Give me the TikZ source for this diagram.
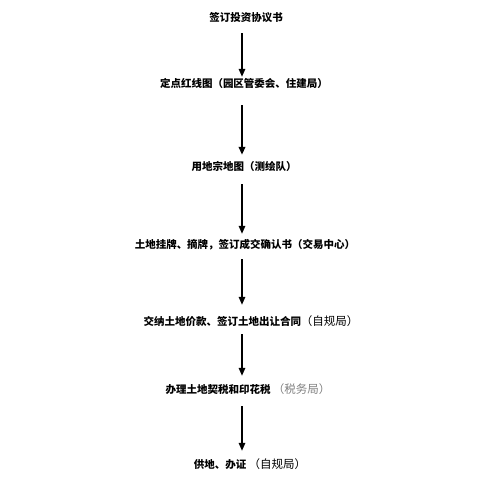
\documentclass[tikz,border=0pt]{standalone}
\usepackage{fontspec}
\newfontfamily\cjk{Noto Sans CJK SC}
\usepackage{tikz}
\usetikzlibrary{arrows.meta, positioning}
\newcommand\agency{\cjk\mdseries\fontsize{11.5pt}{12pt}\selectfont}

\begin{document}
\begin{tikzpicture}[x=1pt, y=-1pt, >={Triangle[width=6.5pt,length=8pt]},
  font=\cjk\bfseries\fontsize{10.5pt}{12pt}\selectfont,
  node distance = 70pt, on grid,
  stage/.style={inner sep=0pt, text height=8.5pt, text depth=1.5pt},
  flow/.style={->, line width=1.6pt}]

\useasboundingbox (0,0) rectangle (499,482);

\node[stage] (sign) at (246,18) {签订投资协议书};
\node[stage, below=66pt of sign, xshift=-2pt] (redline) {定点红线图（园区管委会、住建局）};
\node[stage, below=83pt of redline] (parcel) {用地宗地图（测绘队）};
\node[stage, below=78pt of parcel, xshift=1pt] (listing) {土地挂牌、摘牌，签订成交确认书（交易中心）};
\node[stage, below=77pt of listing, xshift=6pt] (contract)
  {交纳土地价款、签订土地出让合同{\agency （自规局）}};
\node[stage, below=68pt of contract, xshift=-3pt] (tax)
  {办理土地契税和印花税 {\agency\color{gray}（税务局）}};
\node[stage, below=75pt of tax, xshift=2pt] (permit) {供地、办证 {\agency （自规局）}};

\coordinate (axis) at (242,0);

\draw[flow, shorten <=10pt, shorten >=2pt] (sign.south -| axis) -- (redline.north -| axis);
\draw[flow, line width=2.4pt, shorten <=16pt, shorten >=7pt] (redline.south -| axis) -- (parcel.north -| axis);
\draw[flow, shorten <=12pt, shorten >=6pt] (parcel.south -| axis) -- (listing.north -| axis);
\draw[flow, shorten <=9pt, shorten >=12pt] (listing.south -| axis) -- (contract.north -| axis);
\draw[flow, shorten <=7pt, shorten >=9pt] (contract.south -| axis) -- (tax.north -| axis);
\draw[flow, xshift=1pt, shorten <=11pt, shorten >=9pt] (tax.south -| axis) -- (permit.north -| axis);
\end{tikzpicture}
\end{document}
